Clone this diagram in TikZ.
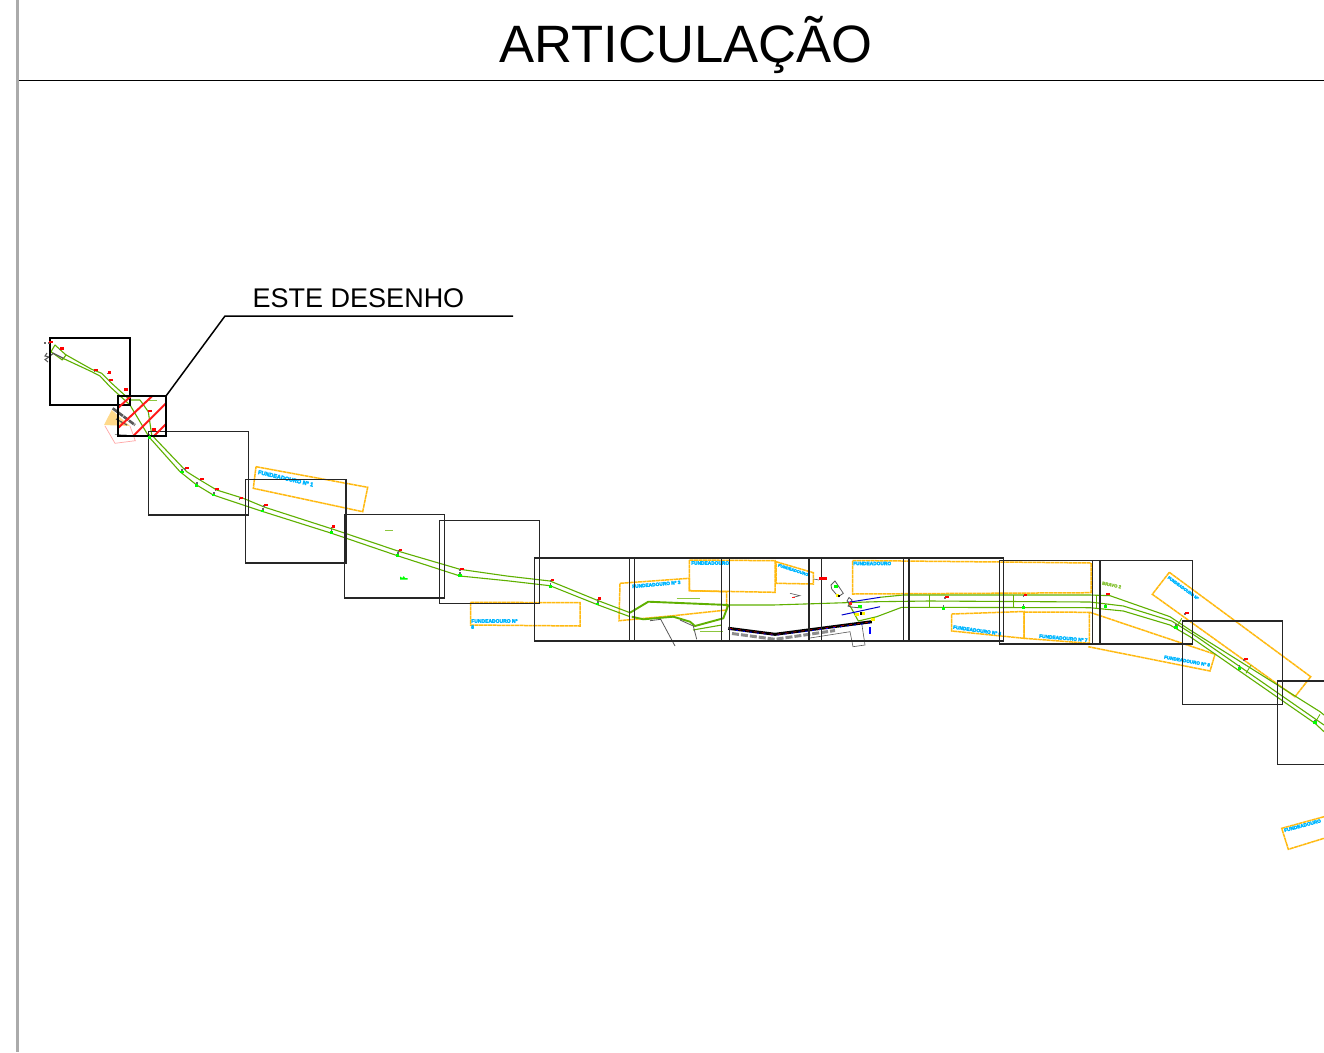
\documentclass[tikz,border=0pt]{standalone}
\usepackage{fontspec}
\setmainfont{Liberation Sans}
\newfontfamily\moorfont{Liberation Sans Bold}[FakeBold=6]
\definecolor{broad}{HTML}{5FB000}
\definecolor{bgold}{HTML}{FFB90F}
\definecolor{bcyan}{HTML}{00B7FF}
\definecolor{bhatch}{HTML}{FF1A1A}
\definecolor{bband}{HTML}{ABABAB}
\definecolor{bpale}{HTML}{8CC63F}
\definecolor{bsand}{HTML}{FFD98A}
\tikzstyle{sheet} = [draw=black!85, line width=1.1pt]
\tikzstyle{sheetbold} = [draw=black, line width=1.7pt]
\tikzstyle{hatchline} = [draw=bhatch, line width=2pt]
\tikzstyle{road} = [draw=broad, line width=1.1pt, line join=round]
\tikzstyle{roadbold} = [draw=broad, line width=1.9pt, line join=round]
\tikzstyle{mooring} = [draw=bgold, line width=1.5pt, dash pattern=on 4pt off 0.5pt]
\tikzstyle{mooringtext} = [text=bcyan, inner sep=0pt]
\tikzstyle{plant} = [draw=black!65, line width=0.8pt]

\begin{document}
\begin{tikzpicture}[x=1pt, y=-1pt]
\clip (0,0) rectangle (1324,1052);
\fill[white] (0,0) rectangle (1324,1052);

%% frame and title
\fill[bband] (16,0) rectangle (18.5,1052);
\draw[black, line width=0.8pt] (18.5,80.5) -- (1324,80.5);
\node[anchor=base, inner sep=0pt, font=\fontsize{52.6}{52.6}\selectfont] (title) at (686,62) {ARTICULAÇÃO};

%% mooring areas
\draw[mooring] (256,466.7) -- (367.7,487.3) -- (362.7,511.7) -- (253.3,488.3) -- cycle;
\draw[mooring] (470.7,602.3) -- (580,602.7) -- (580,626) -- (470.7,625) -- cycle;
\draw[mooring] (620,583.3) -- (689.3,578.3) -- (689.3,590.7) -- (726.7,591.7) -- (726.7,610) -- (673.3,615.7) -- (619,620.7) -- cycle;
\draw[mooring] (689.3,560) -- (775,560.7) -- (775,592.3) -- (689.3,590.7) -- cycle;
\draw[mooring] (776,561.7) -- (813.3,572.7) -- (813.3,584) -- (776,583.3) -- cycle;
\draw[mooring] (852.7,560.5) -- (1000,562) -- (1091,563) -- (1091,592.7) -- (852.7,594) -- cycle;
\draw[mooring] (951.7,614) -- (1024,611.5) -- (1024,638.3) -- (951.7,631) -- cycle;
\draw[mooring] (1024,612) -- (1089.3,612.3) -- (1089.3,643.3) -- (1024,638.3) -- cycle;
\draw[mooring] (1090,612.3) -- (1215,654.3) -- (1210,671) -- (1088.3,646.7);
\draw[mooring] (1169.3,572.3) -- (1310.7,676.7) -- (1295,696.7) -- (1152.3,594.3) -- cycle;
\draw[mooring] (1324,816.7) -- (1281.7,828.3) -- (1288.3,849.3) -- (1324,838.3);

\node[mooringtext, anchor=west, rotate=-13, font=\moorfont\fontsize{5.6}{5.6}\selectfont] (moor1) at (258,472) {FUNDEADOURO Nº 1};
\node[mooringtext, anchor=west, font=\moorfont\fontsize{5}{5}\selectfont] (moor2) at (471,621) {FUNDEADOURO Nº};
\node[mooringtext, anchor=west, font=\moorfont\fontsize{5}{5}\selectfont] (moor2b) at (471,627) {8};
\node[mooringtext, anchor=west, rotate=5, font=\moorfont\fontsize{4.8}{4.8}\selectfont] (moor3) at (632,586.5) {FUNDEADOURO Nº 3};
\node[mooringtext, anchor=west, font=\moorfont\fontsize{4.8}{4.8}\selectfont] (moor4) at (691,563) {FUNDEADOURO};
\node[mooringtext, anchor=west, rotate=-18, font=\moorfont\fontsize{4}{4}\selectfont] (moor5) at (778,565) {FUNDEADOURO};
\node[mooringtext, anchor=west, font=\moorfont\fontsize{4.8}{4.8}\selectfont] (moor6) at (853,563.5) {FUNDEADOURO};
\node[mooringtext, anchor=west, rotate=-8, font=\moorfont\fontsize{4.8}{4.8}\selectfont] (moor7) at (953,627) {FUNDEADOURO Nº 6};
\node[mooringtext, anchor=west, rotate=-5, font=\moorfont\fontsize{4.8}{4.8}\selectfont] (moor8) at (1039,636) {FUNDEADOURO Nº 7};
\node[mooringtext, anchor=west, rotate=-10, font=\moorfont\fontsize{4.6}{4.6}\selectfont] (moor9) at (1164,657) {FUNDEADOURO Nº 8};
\node[mooringtext, anchor=west, rotate=-36, font=\moorfont\fontsize{4}{4}\selectfont] (moor10) at (1168,577) {FUNDEADOURO Nº};
\node[mooringtext, anchor=west, rotate=15, font=\moorfont\fontsize{4.8}{4.8}\selectfont] (moor11) at (1284,830.5) {FUNDEADOURO};
\node[text=bpale, anchor=west, rotate=-12, inner sep=0pt, font=\moorfont\fontsize{4.4}{4.4}\selectfont] (bravo) at (1102,583) {BRAVO 2};

%% road
\draw[road] (51,351.7) -- (55,345) -- (66,355) -- (62.3,360) -- cycle;
\draw[road] (65,354.3) -- (91.7,369.3) -- (101.7,373.3) -- (111.7,383.3) -- (130,400) -- (140,400) -- (148.3,411.7) -- (151.7,435) -- (186.7,471.7) -- (200,480) -- (216.7,490) -- (243.3,498.3) -- (265,507.3) -- (333.3,529.3) -- (400,551.7) -- (460,569.3) -- (506.7,576) -- (550,581) -- (598.3,600.7) -- (630,612.7);
\draw[road] (62.3,358) -- (91.7,371.7) -- (100,376) -- (110,386.7) -- (130,405) -- (149.3,437.3) -- (180,471.7) -- (196.7,485) -- (213.3,495) -- (233.3,501.7) -- (263.3,511.7) -- (331.7,533.3) -- (398.3,556) -- (460,576) -- (506.7,580.7) -- (550,585.7) -- (598.3,605) -- (630,616.7);
\draw[roadbold] (630,612.7) -- (648.3,601.7) -- (728.3,605);
\draw[roadbold] (631.7,616.7) -- (643.3,619.3) -- (673.3,616.7) -- (690,621.7) -- (695,626) -- (723.3,618.3) -- (728.3,605);
\draw[road] (728.3,605) -- (773,605) -- (876.7,601.7) -- (929,601) -- (1090,602) -- (1123.3,606) -- (1171.7,621) -- (1196.7,636.7) -- (1324,725);
\draw[road] (880,597.3) -- (903.3,595) -- (1090,595) -- (1110,595.7) -- (1170,616.7) -- (1190,630) -- (1320,711.7) -- (1324,715);
\draw[road] (848,602) -- (858.3,621) -- (876.7,616.7) -- (901.7,607.3) -- (1090,607.7) -- (1123.3,611) -- (1170,625) -- (1190,636.7) -- (1315,723.3) -- (1324,731.7);
\draw[road] (693,630) -- (721.7,625);
\draw[road, draw=bpale, line width=0.5pt] (700,631.7) -- (723.3,631.7);
\draw[road, draw=bpale, line width=0.5pt] (676.7,598.3) -- (700,598.3);
\draw[road, draw=bpale, line width=0.5pt] (385,530) -- (393,530);
\draw[road, draw=bpale, line width=0.5pt] (148.3,400) -- (156.7,400);
\draw[road, line width=0.8pt] (929,595) -- (929,606.7);
\draw[road, line width=0.8pt] (1013.3,595) -- (1013.3,606.7);
\draw[road, line width=0.8pt] (1096.7,595) -- (1096.7,607.7);
\draw[road, line width=0.8pt] (1181.7,618.3) -- (1176.7,627.3);
\draw[road, line width=0.8pt] (1251,665) -- (1246,673.3);
\draw[road, line width=0.8pt] (1320,714.3) -- (1315,722.7);

%% plant near this sheet
\fill[bsand] (104,425) -- (111.7,410) -- (130,426) -- cycle;
\draw[red!35, line width=0.7pt] (105,426) -- (115,443.3) -- (135.3,440.7) -- (130,426);
\draw[plant, line width=2.6pt, dash pattern=on 6pt off 0.8pt] (112.7,408.3) -- (135,425);
\draw[plant, line width=1.2pt] (116,419) -- (127,425);
\draw[plant, line width=0.5pt] (115,434.5) -- (126.7,435);
\draw[plant, line width=1pt] (47,353) -- (45,356) -- (49,357) -- (45,359.5) -- (48,362);
\draw[plant, line width=1.2pt] (49,356.7) -- (53.3,353.3) -- (63.3,358.3);

%% plant in the harbour
\draw[plant] (650,620.7) -- (660.7,619.3) -- (675,646);
\draw[plant] (680,620) -- (693.3,626) -- (696.7,639.3);
\draw[plant, line width=3pt, black!45, dash pattern=on 7pt off 2pt] (732,633.5) -- (775,639.3) -- (835,630.5);
\draw[plant, line width=0.6pt] (808,638.3) -- (850,631.7) -- (853,646.7) -- (865,645) -- (861.7,623.3);
\draw[black, line width=3pt] (728.3,628.3) -- (775,634.3) -- (871.7,621.7);
\draw[blue, line width=0.9pt, dash pattern=on 2pt off 5pt] (729,629.3) -- (775,635.3) -- (870,623);
\draw[red!70!black, line width=0.7pt, dash pattern=on 3pt off 5pt] (730,628.5) -- (775,634.5) -- (870,622);
\draw[plant, line width=0.6pt] (790,593.3) -- (800,595.7) -- (793,597.3);
\draw[plant, line width=0.8pt] (831,585) -- (835,581) -- (843.3,593.3) -- (838.3,596.7) -- (831.7,589) -- cycle;
\draw[plant, line width=0.6pt] (813.5,579) -- (819,580);
\draw[plant, line width=0.8pt] (848.3,602) -- (847,601) -- (849,597.5) -- (852,600) -- (848,606) -- (851,607) -- (862,608);
\draw[blue!80!black, line width=1pt] (848.3,602.3) -- (880,597.3);
\draw[blue!80!black, line width=1pt] (841.7,615) -- (880,606.7);
\draw[blue, line width=1.4pt] (870,627) -- (870,634);
\fill[yellow] (835.5,593.5) rectangle (838.5,596.5);
\fill[yellow] (855,612.5) rectangle (859,616);
\fill[yellow] (861,611.5) rectangle (865,614.5);
\fill[yellow] (871,618) rectangle (875,621);
\fill[black] (838,594.5) rectangle (840,596.5);
\fill[black] (860,612) rectangle (862,614.5);
\fill[black] (870,620.5) rectangle (871.5,622);
\fill[green] (834,584.5) rectangle (838,587.5);
\fill[green] (858,605) rectangle (862,608);
\fill[bhatch] (849,602) rectangle (852,604.5);
\fill[bhatch] (792,596.5) rectangle (795,598);

%% sheets
\draw[sheet] (148.3,431.7) rectangle (248.3,515);
\draw[sheet] (245.7,479.7) rectangle (346,563);
\draw[sheet] (344.3,514.7) rectangle (444.3,598);
\draw[sheet] (439.3,520.3) rectangle (539.3,603.7);
\draw[sheet] (534.3,558) rectangle (634.3,641);
\draw[sheet] (629.3,558) rectangle (729.3,641);
\draw[sheet] (721.7,558) rectangle (821.7,641);
\draw[sheet] (809,558) rectangle (909,641);
\draw[sheet] (903.3,558) rectangle (1003.7,641);
\draw[sheet] (999.7,560.7) rectangle (1100,644);
\draw[sheet] (1092.3,560.7) rectangle (1192.3,644);
\draw[sheet] (1182.3,621) rectangle (1282.7,704.3);
\draw[sheet] (1277.7,681) rectangle (1377.7,764.3);
\draw[sheetbold] (50,338) rectangle (130,405);

%% this sheet
\draw[hatchline] (117.7,408.3) -- (131,396);
\draw[hatchline] (117.7,428.3) -- (152.3,396);
\draw[hatchline] (133.3,436) -- (166,403.3);
\draw[hatchline] (154,436) -- (166,424);
\draw[sheetbold] (117.7,396) rectangle (166,436);

%% leader
\coordinate (leadstart) at (166,396);
\coordinate (leadbend) at (225,316);
\coordinate (leadend) at (513,316);
\node[anchor=base, inner sep=0pt, font=\fontsize{27}{27}\selectfont] (este) at (358.5,307) {ESTE DESENHO};
\draw[black, line width=1.5pt] (leadstart) -- (leadbend) -- (leadend);

%% markers
\fill[black!60] (44,341.7) rectangle ++(1.8,1.8);
\foreach \mx/\my in {50.7/341.7, 61.7/348.3, 96/370, 109.3/372.3, 111/379.7, 126/389.3, 150/410.7, 154/429.3, 186.7/468, 202/478.7, 217/489, 241.3/498, 265.7/504.7, 333.3/526.3, 400.3/550, 461.7/568.7, 552.3/579.7, 599.3/598.3, 946.7/596.7, 1025.3/594.7, 1108/594, 1186.7/613, 1245.7/659}{
  \fill[black!60] (\mx-2.5,\my+0.2) rectangle ++(1.6,1.6);
  \fill[red] (\mx-1.8,\my-1.2) rectangle ++(3.6,2.4);
}
\fill[red] (819.3,577.2) rectangle (826.7,579.8);
\foreach \mx/\my in {149.3/437.3, 182/472, 196.7/485.3, 213.7/495, 262.7/511, 331.3/532.3, 397.7/555.3, 460/575.3, 550.3/586.3, 597.7/604, 943.3/608.3, 1023.3/607.3, 1105.3/606.7, 1176/627.3, 1239.3/668.3, 1315/722.7}{
  \fill[black!60] (\mx-0.6,\my-3) rectangle ++(1.4,1.6);
  \fill[green] (\mx-1.6,\my-1.4) rectangle ++(3.2,2.8);
}
\fill[green] (400,576.5) -- (402.5,578) -- (403.7,576) -- (405,578) -- (407.5,578) -- (407.5,579.5) -- (400,579.5) -- cycle;
\end{tikzpicture}
\end{document}
